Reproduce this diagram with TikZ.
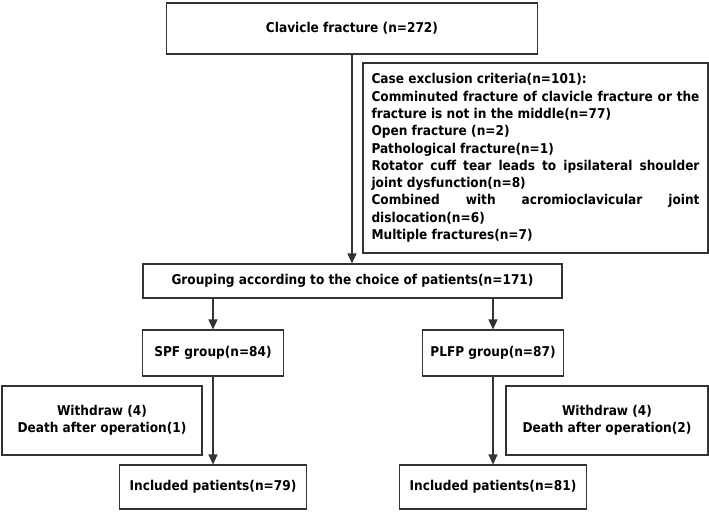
\documentclass[tikz,border=0pt]{standalone}
\usepackage{fontspec}
\setmainfont{DejaVu Sans Condensed}
\usetikzlibrary{arrows.meta}
\begin{document}
\begin{tikzpicture}[x=1pt,y=-1pt,
  box/.style={draw=black!80,line width=1.1pt,rectangle,inner sep=0pt,align=center,font=\fontsize{13.5}{17}\selectfont\bfseries},
  arr/.style={draw=black!80,line width=1.2pt,-{Triangle[length=10pt,width=9pt]}}]
\useasboundingbox (0,0) rectangle (709,513);
\node[box,minimum width=371pt,minimum height=51pt] (top) at (352,28.5) {Clavicle fracture (n=272)};
\node[box,minimum width=345pt,minimum height=190pt] (excl) at (535.5,158) {\begin{minipage}{328pt}\setlength{\parindent}{0pt}\fontsize{13.5}{17.3}\selectfont
Case exclusion criteria(n=101):\par
Comminuted fracture of clavicle fracture or the\linebreak fracture is not in the middle(n=77)\par
Open fracture (n=2)\par
Pathological fracture(n=1)\par
Rotator cuff tear leads to ipsilateral shoulder\linebreak joint dysfunction(n=8)\par
Combined with acromioclavicular joint\linebreak dislocation(n=6)\par
Multiple fractures(n=7)\end{minipage}};
\node[box,minimum width=419pt,minimum height=34pt] (grp) at (352.5,281) {Grouping according to the choice of patients(n=171)};
\node[box,minimum width=141pt,minimum height=46pt] (spf) at (213,353) {SPF group(n=84)};
\node[box,minimum width=141pt,minimum height=46pt] (plfp) at (493,353) {PLFP group(n=87)};
\node[box,minimum width=200pt,minimum height=69pt] (wl) at (102,420.5) {Withdraw (4)\\Death after operation(1)};
\node[box,minimum width=202pt,minimum height=69pt] (wr) at (607,420.5) {Withdraw (4)\\Death after operation(2)};
\node[box,minimum width=187pt,minimum height=44pt] (il) at (213,487) {Included patients(n=79)};
\node[box,minimum width=187pt,minimum height=44pt] (ir) at (493,487) {Included patients(n=81)};
\draw[arr] (top.south) -- (grp.north -| top.south);
\draw[arr] (grp.south -| spf.north) -- (spf.north);
\draw[arr] (grp.south -| plfp.north) -- (plfp.north);
\draw[arr] (spf.south) -- (il.north);
\draw[arr] (plfp.south) -- (ir.north);
\end{tikzpicture}
\end{document}
